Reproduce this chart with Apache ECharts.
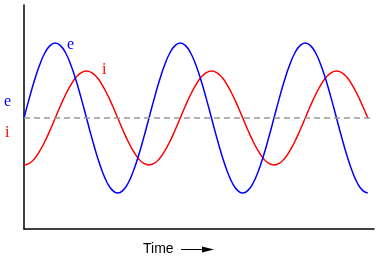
<!DOCTYPE html>
<html><head><meta charset="utf-8">
<script src="https://cdn.jsdelivr.net/npm/echarts@6/dist/echarts.min.js"></script>
<style>html,body{margin:0;padding:0;background:#fff}#c{width:379px;height:261px}</style>
</head><body><div id="c"></div>
<script>
// phase angle (degrees) of each sample
const timeDeg = [0,15,30,45,60,75,90,105,120,135,150,165,180,195,210,225,240,255,270,285,300,315,330,345,
360,375,390,405,420,435,450,465,480,495,510,525,540,555,570,585,600,615,630,645,660,675,690,705,
720,735,750,765,780,795,810,825,840,855,870,885,900,915,930,945,960,975,990];
// voltage e
const eValues = [0,19.4,37.5,53,65,72.4,75,72.4,65,53,37.5,19.4,0,-19.4,-37.5,-53,-65,-72.4,-75,-72.4,-65,-53,-37.5,-19.4,
0,19.4,37.5,53,65,72.4,75,72.4,65,53,37.5,19.4,0,-19.4,-37.5,-53,-65,-72.4,-75,-72.4,-65,-53,-37.5,-19.4,
0,19.4,37.5,53,65,72.4,75,72.4,65,53,37.5,19.4,0,-19.4,-37.5,-53,-65,-72.4,-75];
// current i
const iValues = [-47,-45.4,-40.7,-33.2,-23.5,-12.2,0,12.2,23.5,33.2,40.7,45.4,47,45.4,40.7,33.2,23.5,12.2,0,-12.2,-23.5,-33.2,-40.7,-45.4,
-47,-45.4,-40.7,-33.2,-23.5,-12.2,0,12.2,23.5,33.2,40.7,45.4,47,45.4,40.7,33.2,23.5,12.2,0,-12.2,-23.5,-33.2,-40.7,-45.4,
-47,-45.4,-40.7,-33.2,-23.5,-12.2,0,12.2,23.5,33.2,40.7,45.4,47,45.4,40.7,33.2,23.5,12.2,0];
const xLabel = 'Time';

const chart = echarts.init(document.getElementById('c'), null, {renderer:'canvas'});
chart.setOption({
  animation:false,
  grid:{left:24,right:5,top:5,bottom:32},
  xAxis:{type:'value',min:0,max:1008,axisLine:{onZero:false,lineStyle:{color:'#000',width:1.5}},
    axisTick:{show:false},axisLabel:{show:false},splitLine:{show:false}},
  yAxis:{type:'value',min:-111,max:113,axisLine:{show:true,onZero:false,lineStyle:{color:'#000',width:1.5}},
    axisTick:{show:false},axisLabel:{show:false},splitLine:{show:false}},
  series:[
    {type:'line',data:timeDeg.map((t,k)=>[t,eValues[k]]),smooth:true,symbol:'none',
      lineStyle:{color:'#0000ff',width:1.5},z:3,
      markLine:{silent:true,symbol:'none',label:{show:false},
        lineStyle:{color:'#999',type:[6,4],width:1.5},data:[{yAxis:0}]}},
    {type:'line',data:timeDeg.map((t,k)=>[t,iValues[k]]),smooth:true,symbol:'none',
      lineStyle:{color:'#ff0000',width:1.5},z:2}
  ],
  graphic:[
    {type:'text',left:4,top:94,style:{text:'e',fill:'#0000ff',font:'16px "Liberation Serif"'}},
    {type:'text',left:5,top:125,style:{text:'i',fill:'#ff0000',font:'16px "Liberation Serif"'}},
    {type:'text',left:67,top:37,style:{text:'e',fill:'#0000ff',font:'16px "Liberation Serif"'}},
    {type:'text',left:102,top:62,style:{text:'i',fill:'#ff0000',font:'16px "Liberation Serif"'}},
    {type:'text',left:143,top:242,style:{text:xLabel,fill:'#000',font:'14px "Liberation Sans"'}},
    {type:'line',shape:{x1:181,y1:249.5,x2:205,y2:249.5},style:{stroke:'#000',lineWidth:1}},
    {type:'polygon',shape:{points:[[202,246.5],[214,249.5],[202,252.5]]},style:{fill:'#000'}}
  ]
});
</script></body></html>
